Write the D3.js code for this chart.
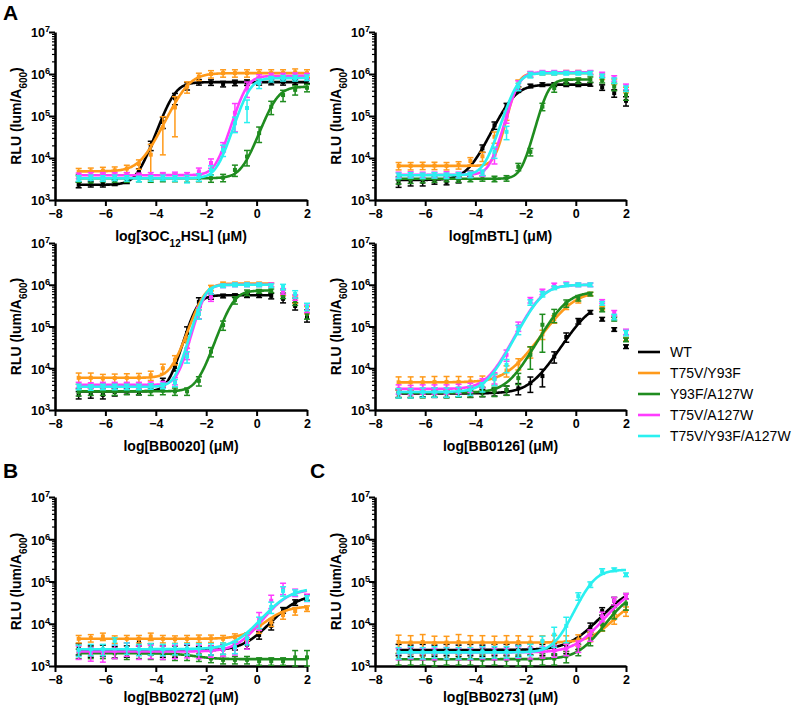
<!DOCTYPE html>
<html>
<head>
<meta charset="utf-8">
<script src="https://cdn.jsdelivr.net/npm/d3@7"></script>
<style>
  body { margin: 0; background: #fff; }
  svg { font-family: "Liberation Sans", Arial, sans-serif; }
</style>
</head>
<body>
<div id="container"></div>
<script>
var width = 800,
    height = 709;

// log10 concentration (uM), 3-fold dilution series
var logConc = [-7.06, -6.58, -6.1, -5.63, -5.15, -4.67, -4.2, -3.72, -3.24, -2.76,
               -2.29, -1.81, -1.33, -0.86, -0.38, 0.1, 0.58, 1.05, 1.53, 2.0];

var strains = ['WT', 'T75V/Y93F', 'Y93F/A127W', 'T75V/A127W', 'T75V/Y93F/A127W'];
var strainColors = ['#000000', '#ff9a1a', '#1f8c1f', '#ff3cff', '#2af0f0'];

var yTicks = [1e3, 1e4, 1e5, 1e6, 1e7];
var xTicks = [-8, -6, -4, -2, 0, 2];

var ligands = ['3OC{12}HSL', 'mBTL', 'BB0020', 'BB0126', 'BB0272', 'BB0273'];
// last x used by the fitted curve (higher doses left out of the fit)
var fitEnd = [2.0, 0.58, 0.58, 0.58, 2.0, 2.0];

// ---- 3OC12HSL ----
var rlu3OC12HSL = [
  [2300, 2400, 2400, 2600, 2900, 4600, 20000, 72000, 265000, 520000, 640000, 630000, 580000, 620000, 630000, 640000, 650000, 640000, 660000, 700000],
  [4700, 4800, 5000, 5100, 5600, 7200, 12000, 54000, 160000, 500000, 870000, 1000000, 1050000, 1050000, 1050000, 1050000, 1050000, 1050000, 1100000, 1050000],
  [3300, 3200, 3400, 3300, 3300, 3400, 3300, 3400, 3400, 3300, 3400, 3300, 3400, 5200, 10800, 39000, 166000, 315000, 420000, 470000],
  [3800, 3900, 3900, 3900, 3900, 3800, 3900, 3900, 4000, 3900, 4800, 7600, 18600, 120000, 460000, 800000, 900000, 900000, 920000, 900000],
  [3300, 3400, 3300, 3400, 3300, 3200, 3300, 3400, 3300, 3200, 3500, 5200, 15500, 67000, 155000, 600000, 760000, 800000, 800000, 820000]
];
var err3OC12HSL = [
  [15, 15, 15, 15, 15, 20, 25, 30, 30, 20, 15, 15, 15, 15, 15, 15, 15, 15, 15, 15],
  [20, 20, 20, 20, 20, 25, 75, 78, 80, 30, 20, 20, 20, 20, 20, 20, 20, 20, 20, 20],
  [20, 20, 20, 20, 20, 20, 20, 20, 20, 20, 20, 20, 20, 30, 40, 40, 35, 30, 25, 20],
  [15, 15, 15, 15, 15, 15, 15, 15, 15, 15, 20, 25, 25, 65, 40, 20, 15, 15, 15, 15],
  [15, 15, 15, 15, 15, 15, 15, 15, 15, 20, 20, 25, 30, 40, 55, 25, 15, 15, 15, 15]
];
// [bottom, top, logEC50, hill]
var fit3OC12HSL = [
  [2300, 640000, -3.28, 1.7],
  [4800, 1050000, -2.75, 1.3],
  [3300, 500000, 0.77, 1.66],
  [3900, 900000, -0.42, 2.0],
  [3300, 800000, -0.3, 1.9]
];

// ---- mBTL ----
var rluMBTL = [
  [2500, 2700, 2700, 2800, 2700, 3000, 4200, 17000, 60000, 174000, 430000, 520000, 560000, 560000, 560000, 560000, 570000, 480000, 350000, 230000],
  [6500, 6500, 6600, 6600, 6500, 6800, 8500, 11000, 32000, 105000, 600000, 980000, 1050000, 1050000, 1100000, 1100000, 1080000, 870000, 660000, 420000],
  [3000, 3100, 3200, 3100, 3200, 3100, 3200, 3300, 3200, 3300, 6200, 14000, 167000, 460000, 660000, 700000, 740000, 720000, 500000, 316000],
  [4000, 4100, 4000, 4000, 4100, 4000, 4100, 4300, 12000, 96000, 550000, 1000000, 1100000, 1100000, 1100000, 1100000, 1100000, 1000000, 790000, 500000],
  [3800, 3900, 3800, 3900, 3800, 3900, 4000, 4500, 14000, 42000, 500000, 950000, 1050000, 1050000, 1050000, 1050000, 1050000, 900000, 700000, 450000]
];
var errMBTL = [
  [20, 20, 20, 15, 15, 15, 15, 20, 20, 15, 15, 10, 10, 10, 10, 10, 10, 15, 20, 25],
  [20, 20, 20, 20, 20, 20, 20, 25, 30, 25, 20, 15, 10, 10, 10, 10, 10, 15, 15, 15],
  [20, 20, 20, 15, 15, 15, 15, 15, 15, 15, 20, 20, 20, 20, 15, 15, 15, 15, 20, 25],
  [15, 15, 15, 15, 15, 15, 15, 15, 40, 30, 25, 15, 10, 10, 10, 10, 10, 10, 15, 15],
  [15, 15, 15, 15, 15, 15, 15, 15, 30, 35, 20, 15, 10, 10, 10, 10, 10, 10, 15, 15]
];
var fitMBTL = [
  [3000, 560000, -2.49, 1.29],
  [6500, 1050000, -2.34, 2.6],
  [3200, 740000, -1.12, 2.3],
  [4000, 1100000, -2.29, 2.2],
  [3900, 1050000, -2.35, 1.9]
];

// ---- BB0020 ----
var rluBB0020 = [
  [2300, 2400, 2300, 2700, 2800, 2700, 3500, 4800, 10700, 70000, 390000, 530000, 540000, 550000, 550000, 550000, 540000, 460000, 310000, 170000],
  [5900, 5900, 5700, 5800, 5900, 6000, 6800, 10000, 16000, 43000, 200000, 840000, 1050000, 1050000, 1050000, 1050000, 1000000, 650000, 450000, 250000],
  [2700, 2800, 2800, 2800, 2900, 2900, 2800, 2900, 2800, 2800, 5000, 25000, 108000, 430000, 650000, 700000, 720000, 550000, 400000, 200000],
  [4000, 3900, 4000, 4000, 4000, 4000, 4100, 4200, 5000, 23000, 219000, 500000, 950000, 1000000, 1000000, 1000000, 1000000, 700000, 500000, 270000],
  [3600, 3500, 3600, 3600, 3600, 3600, 3700, 3800, 4500, 19000, 200000, 700000, 950000, 1000000, 1000000, 1000000, 950000, 890000, 600000, 300000]
];
var errBB0020 = [
  [20, 20, 20, 20, 15, 15, 20, 20, 20, 40, 25, 15, 10, 10, 10, 10, 15, 20, 20, 25],
  [30, 30, 25, 25, 25, 25, 25, 25, 25, 30, 25, 15, 10, 10, 10, 10, 10, 15, 20, 20],
  [20, 20, 20, 20, 20, 20, 20, 20, 20, 20, 25, 25, 25, 20, 15, 10, 10, 15, 20, 25],
  [15, 15, 15, 15, 15, 15, 15, 15, 20, 30, 30, 20, 10, 10, 10, 10, 10, 15, 15, 20],
  [15, 15, 15, 15, 15, 15, 15, 15, 20, 30, 25, 15, 10, 10, 10, 10, 10, 15, 20, 20]
];
var fitBB0020 = [
  [2800, 560000, -2.38, 2.1],
  [5900, 1070000, -2.1, 1.8],
  [2800, 730000, -0.95, 1.75],
  [4000, 1000000, -2.07, 2.3],
  [3600, 1000000, -2.1, 2.2]
];

// ---- BB0126 ----
var rluBB0126 = [
  [2500, 2500, 2600, 2500, 2500, 2600, 2500, 2600, 2700, 3000, 3300, 4400, 6500, 19000, 56000, 135000, 220000, 150000, 85000, 33000],
  [4600, 4600, 4600, 4700, 4700, 4700, 4800, 5000, 5600, 8800, 13000, 25000, 65000, 150000, 300000, 430000, 600000, 280000, 160000, 50000],
  [2600, 2600, 2600, 2700, 2600, 2700, 2700, 2800, 2800, 3000, 5800, 21000, 110000, 190000, 360000, 480000, 600000, 250000, 150000, 48000],
  [3200, 3100, 3200, 3200, 3200, 3300, 3500, 4500, 6000, 21000, 102000, 430000, 680000, 990000, 1050000, 1000000, 1000000, 400000, 210000, 75000],
  [2600, 2600, 2700, 2700, 2700, 2800, 3000, 3600, 5500, 12000, 85000, 380000, 600000, 850000, 1000000, 1000000, 1000000, 360000, 170000, 70000]
];
var errBB0126 = [
  [20, 20, 20, 20, 20, 20, 20, 20, 20, 25, 30, 40, 45, 30, 25, 15, 10, 10, 10, 10],
  [35, 35, 35, 35, 35, 35, 30, 30, 30, 30, 30, 30, 25, 20, 15, 15, 10, 10, 10, 10],
  [25, 25, 25, 25, 25, 25, 25, 25, 25, 25, 30, 55, 78, 35, 20, 15, 10, 10, 10, 10],
  [25, 25, 25, 25, 25, 25, 25, 25, 30, 30, 25, 15, 15, 10, 10, 10, 10, 10, 15, 15],
  [25, 25, 25, 25, 25, 25, 25, 25, 30, 35, 25, 15, 15, 10, 10, 10, 10, 10, 15, 15]
];
var fitBB0126 = [
  [2500, 400000, 0.5, 1.0],
  [4600, 700000, -0.2, 0.9],
  [2600, 680000, -0.45, 1.1],
  [3200, 1000000, -1.4, 1.2],
  [2700, 1000000, -1.38, 1.2]
];

// ---- BB0272 ----
var rluBB0272 = [
  [2600, 2300, 2400, 2200, 2300, 3700, 2600, 2300, 2300, 2500, 2300, 2400, 2500, 3000, 3200, 5400, 8900, 21000, 32000, 42000],
  [4400, 4600, 5000, 4300, 4400, 4400, 5000, 4400, 4300, 4400, 4500, 4500, 4400, 4800, 5000, 7400, 10800, 16000, 20000, 23000],
  [2000, 2000, 2000, 2000, 1900, 2000, 1900, 1900, 1800, 1800, 1600, 1500, 1400, 1400, 1400, 1300, 1300, 1300, 1600, 1600],
  [2200, 2000, 1900, 2300, 2600, 2200, 2300, 2200, 2300, 2400, 2300, 2300, 2400, 2600, 3600, 12700, 35000, 70000, 55000, 42000],
  [2400, 2500, 2500, 3900, 2700, 2500, 2600, 2500, 2600, 2600, 2600, 2600, 2700, 2800, 4500, 11000, 25000, 60000, 55000, 40000]
];
var errBB0272 = [
  [30, 30, 30, 30, 30, 20, 30, 30, 30, 25, 25, 25, 25, 20, 20, 20, 20, 15, 15, 15],
  [20, 20, 20, 20, 20, 20, 20, 20, 20, 20, 20, 20, 20, 20, 20, 20, 20, 20, 20, 15],
  [25, 25, 25, 25, 25, 25, 25, 25, 25, 25, 20, 20, 20, 20, 20, 20, 20, 20, 45, 45],
  [35, 35, 35, 35, 35, 35, 35, 35, 35, 35, 35, 30, 30, 30, 30, 45, 35, 30, 20, 20],
  [30, 30, 30, 20, 30, 30, 30, 30, 30, 30, 30, 30, 30, 30, 30, 30, 30, 25, 15, 15]
];
var fitBB0272 = [
  [2300, 50000, 1.3, 0.9],
  [4400, 26000, 0.7, 1.0],
  [2000, 1450, -2.5, 1.0],
  [2200, 65000, 0.95, 1.0],
  [2500, 70000, 1.0, 0.9]
];

// ---- BB0273 ----
var rluBB0273 = [
  [2500, 2400, 2500, 2400, 2500, 2400, 2500, 2400, 2500, 2500, 2400, 2600, 2500, 2600, 2800, 3500, 8300, 20000, 35000, 45000],
  [3700, 3600, 3700, 3500, 3600, 3700, 3600, 3600, 3500, 3600, 3700, 3600, 3700, 3800, 3700, 4200, 5000, 8900, 13000, 20000],
  [1500, 1500, 1500, 1400, 1500, 1500, 1500, 1400, 1500, 1400, 1400, 1400, 1500, 1500, 1700, 2500, 4300, 9700, 18600, 30000],
  [2000, 2100, 2000, 2000, 2100, 2000, 2000, 2100, 2000, 2000, 2200, 2100, 2200, 2300, 2500, 3000, 5500, 15000, 35000, 45000],
  [2100, 2200, 2100, 2200, 2100, 2100, 2100, 2200, 2200, 2200, 2300, 2500, 3900, 5500, 8900, 45000, 85000, 174000, 190000, 145000]
];
var errBB0273 = [
  [30, 30, 30, 30, 30, 30, 30, 30, 30, 30, 30, 30, 30, 30, 30, 30, 25, 20, 20, 15],
  [45, 45, 50, 45, 40, 50, 45, 45, 45, 45, 40, 40, 40, 40, 40, 30, 25, 25, 25, 25],
  [30, 30, 30, 30, 30, 30, 30, 30, 30, 30, 30, 30, 30, 30, 30, 30, 30, 30, 30, 30],
  [30, 30, 30, 30, 30, 30, 30, 30, 30, 30, 30, 30, 30, 30, 30, 30, 30, 25, 20, 15],
  [30, 30, 30, 30, 30, 30, 30, 30, 30, 30, 30, 30, 30, 50, 60, 20, 15, 15, 10, 10]
];
var fitBB0273 = [
  [2400, 80000, 1.89, 0.83],
  [3600, 40000, 2.0, 1.0],
  [1450, 60000, 1.95, 1.0],
  [2100, 80000, 2.0, 0.9],
  [2100, 190000, 0.65, 1.38]
];

var allRlu = [rlu3OC12HSL, rluMBTL, rluBB0020, rluBB0126, rluBB0272, rluBB0273];
var allErr = [err3OC12HSL, errMBTL, errBB0020, errBB0126, errBB0272, errBB0273];
var allFit = [fit3OC12HSL, fitMBTL, fitBB0020, fitBB0126, fitBB0272, fitBB0273];

// panel frames
var frames = [
  {x0: 55,  x1: 307, yTop: 32,  yBot: 200, tOff: 41},
  {x0: 375, x1: 626, yTop: 32,  yBot: 200, tOff: 41},
  {x0: 55,  x1: 307, yTop: 243, yBot: 410, tOff: 41},
  {x0: 375, x1: 626, yTop: 243, yBot: 410, tOff: 41},
  {x0: 55,  x1: 307, yTop: 497, yBot: 666, tOff: 36},
  {x0: 375, x1: 626, yTop: 497, yBot: 666, tOff: 36}
];

var svg = d3.select('#container').append('svg')
    .attr('width', width)
    .attr('height', height);

function fourPL(p, x) {
  return p[0] + (p[1] - p[0]) / (1 + Math.pow(10, (p[2] - x) * p[3]));
}

// text with {sub} parts
function addSubText(sel, str, subSize) {
  str.split(/(\{[^}]*\})/).forEach(function(part) {
    if (!part) return;
    if (part[0] === '{') {
      sel.append('tspan').attr('baseline-shift', 'sub').style('font-size', subSize)
        .text(part.slice(1, -1));
    } else {
      sel.append('tspan').text(part);
    }
  });
}

var minorTicks = [];
[1e3, 1e4, 1e5, 1e6].forEach(function(d) {
  for (var k = 2; k <= 9; k++) minorTicks.push(d * k);
});

function drawPanel(i) {
  var f = frames[i];
  var x = d3.scaleLinear().domain([-8, 2]).range([f.x0, f.x1]);
  var y = d3.scaleLog().domain([1e3, 1e7]).range([f.yBot, f.yTop]);
  var g = svg.append('g');

  // y axis minor ticks
  g.append('g')
    .attr('transform', 'translate(' + f.x0 + ',0)')
    .call(d3.axisLeft(y).tickValues(minorTicks).tickSize(3).tickSizeOuter(0).tickFormat(''))
    .call(function(a) { a.select('.domain').remove(); a.selectAll('line').attr('stroke-width', 1.2); });

  var yAx = g.append('g')
    .attr('transform', 'translate(' + f.x0 + ',0)')
    .call(d3.axisLeft(y).tickValues(yTicks).tickSize(6).tickSizeOuter(0).tickFormat(''));
  yAx.select('.domain').attr('stroke-width', 2.6);
  yAx.selectAll('line').attr('stroke-width', 2);
  yAx.selectAll('.tick').each(function(d) {
    var t = d3.select(this).append('text')
      .attr('x', -8).attr('dy', '0.38em')
      .attr('text-anchor', 'end')
      .style('font-size', '12.5px').style('font-weight', 'bold').attr('fill', '#000');
    t.append('tspan').text('10');
    t.append('tspan').attr('dy', '-0.55em').style('font-size', '9px').text(Math.round(Math.log10(d)));
    t.attr('transform', 'translate(3,0)');
  });

  var xAx = g.append('g')
    .attr('transform', 'translate(0,' + f.yBot + ')')
    .call(d3.axisBottom(x).tickValues(xTicks).tickSize(6).tickSizeOuter(0));
  xAx.select('.domain').attr('stroke-width', 2.6);
  xAx.selectAll('line').attr('stroke-width', 2);
  xAx.selectAll('text')
    .attr('y', 9)
    .style('font-size', '12.5px').style('font-weight', 'bold').attr('fill', '#000');

  // axis titles
  var xt = g.append('text')
    .attr('x', (f.x0 + f.x1) / 2)
    .attr('y', f.yBot + f.tOff)
    .attr('text-anchor', 'middle')
    .style('font-size', '14px').style('font-weight', 'bold');
  addSubText(xt, 'log[' + ligands[i] + '] (\u03bcM)', '10px');

  var yt = g.append('text')
    .attr('transform', 'translate(' + (f.x0 - 34) + ',' + ((f.yTop + f.yBot) / 2) + ') rotate(-90)')
    .attr('text-anchor', 'middle')
    .style('font-size', '14px').style('font-weight', 'bold');
  addSubText(yt, 'RLU (lum/A{600})', '10px');

  // series
  var rlu = allRlu[i], err = allErr[i], fit = allFit[i];
  var curveX = d3.range(logConc[0], fitEnd[i] + 0.001, 0.02);
  var line = d3.line()
    .x(function(d) { return x(d[0]); })
    .y(function(d) { return y(d[1]); });

  strains.forEach(function(s, k) {
    var col = strainColors[k];
    var sg = g.append('g');
    sg.append('path')
      .datum(curveX.map(function(v) { return [v, fourPL(fit[k], v)]; }))
      .attr('d', line)
      .attr('fill', 'none')
      .attr('stroke', col)
      .attr('stroke-width', 2.6);

    var pts = rlu[k].map(function(v, j) {
      var sd = v * err[k][j] / 100;
      return {x: logConc[j], v: v, lo: Math.max(v - sd, 1e3), hi: v + sd};
    });
    var bars = sg.selectAll('.eb').data(pts).enter().append('g');
    bars.append('line')
      .attr('x1', function(d) { return x(d.x); })
      .attr('x2', function(d) { return x(d.x); })
      .attr('y1', function(d) { return y(d.lo); })
      .attr('y2', function(d) { return y(d.hi); });
    bars.append('line')
      .attr('x1', function(d) { return x(d.x) - 3; })
      .attr('x2', function(d) { return x(d.x) + 3; })
      .attr('y1', function(d) { return y(d.hi); })
      .attr('y2', function(d) { return y(d.hi); });
    bars.append('line')
      .attr('x1', function(d) { return x(d.x) - 3; })
      .attr('x2', function(d) { return x(d.x) + 3; })
      .attr('y1', function(d) { return y(d.lo); })
      .attr('y2', function(d) { return y(d.lo); });
    bars.selectAll('line').attr('stroke', col).attr('stroke-width', 1.5);
    bars.append('rect')
      .attr('x', function(d) { return x(d.x) - 2; })
      .attr('y', function(d) { return y(d.v) - 2; })
      .attr('width', 4).attr('height', 4)
      .attr('fill', col);
  });
}

for (var i = 0; i < 6; i++) drawPanel(i);

// panel letters
[['A', 3, 20], ['B', 3, 478], ['C', 310, 478]].forEach(function(l) {
  svg.append('text').attr('x', l[1]).attr('y', l[2])
    .style('font-size', '21px').style('font-weight', 'bold').text(l[0]);
});

// legend
var legend = svg.append('g').attr('transform', 'translate(638,352)');
strains.forEach(function(s, k) {
  var row = legend.append('g').attr('transform', 'translate(0,' + (k * 21) + ')');
  row.append('line').attr('x1', 0).attr('x2', 22).attr('y1', 0).attr('y2', 0)
    .attr('stroke', strainColors[k]).attr('stroke-width', 2.6);
  row.append('text').attr('x', 32).attr('y', 5)
    .style('font-size', '14px').text(s);
});
</script>
</body>
</html>
